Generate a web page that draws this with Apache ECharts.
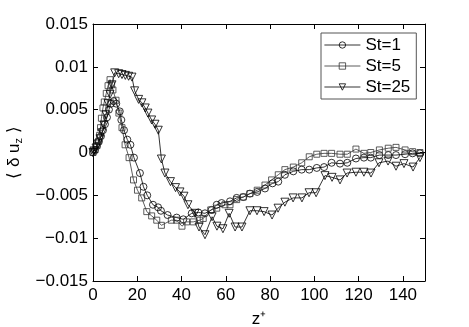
<!DOCTYPE html>
<html>
<head>
<meta charset="utf-8">
<script src="https://cdn.jsdelivr.net/npm/echarts@6/dist/echarts.min.js"></script>
<style>
  html, body { margin: 0; padding: 0; background: #fff; }
  #main { width: 469px; height: 327px; }
</style>
</head>
<body>
<div id="main"></div>
<script>
// St=1 (circles)
var z1 = [0, 0.9, 1.8, 2.7, 3.6, 4.5, 5.4, 6.3, 7.2, 8.1, 9.3, 10.5, 12.1, 12.8, 14, 15.5, 16.9, 18.5, 21.2, 22.8, 24.5, 27.1, 29.4, 30.7, 33.7, 37.8, 40.8, 44.6, 47.6, 50.6, 53.6, 55.9, 58.1, 61.9, 64.9, 67.9, 70.9, 74.2, 77.7, 81.1, 83.7, 86.7, 90.5, 94.3, 97.7, 101.1, 104.4, 107.8, 111.6, 114.9, 118.8, 122.4, 125.5, 129.4, 133.4, 136.9, 141, 144.4, 147.7];
var u1 = [0, 0.0003, 0.0008, 0.0013, 0.0019, 0.0026, 0.0033, 0.0041, 0.005, 0.0057, 0.006, 0.0057, 0.0048, 0.0038, 0.0026, 0.0015, 0.0009, -0.0006, -0.0024, -0.004, -0.005, -0.0061, -0.0064, -0.0068, -0.0073, -0.0076, -0.0078, -0.0071, -0.007, -0.0071, -0.0067, -0.0061, -0.0059, -0.0057, -0.0053, -0.0052, -0.0048, -0.0046, -0.0042, -0.0036, -0.0034, -0.0026, -0.0022, -0.002, -0.002, -0.0018, -0.0017, -0.0012, -0.0013, -0.0012, -0.0007, -0.0006, -0.0006, -0.0003, -0.0003, -0.0003, -0.0002, -0.0001, -0.0001];

// St=5 (squares)
var z5 = [0, 0.9, 1.8, 2.5, 3, 3.4, 3.8, 4.5, 5.1, 6, 6.8, 7.7, 8.4, 9, 10.4, 11.7, 13.1, 14.5, 16.3, 18.3, 20.1, 22, 24.3, 26.5, 28.8, 30.9, 35.4, 37.8, 40.2, 42.3, 45.3, 48.3, 49.8, 53.2, 55.9, 59.6, 61.9, 64.9, 67.9, 70.9, 74.2, 77.7, 80.7, 83.7, 86.7, 90.5, 94.3, 97.7, 101.1, 104.4, 107.8, 111.6, 114.9, 118.8, 122.4, 125.5, 129.4, 133.4, 136.9, 141, 144.4, 147.7];
var u5 = [0, 0.0003, 0.0008, 0.0013, 0.002, 0.0029, 0.004, 0.0052, 0.0059, 0.0069, 0.0078, 0.0085, 0.0079, 0.0073, 0.0061, 0.0046, 0.0029, 0.0009, -0.0006, -0.0032, -0.0044, -0.0053, -0.0069, -0.0074, -0.0079, -0.0085, -0.0079, -0.0079, -0.0086, -0.0081, -0.0081, -0.0079, -0.0077, -0.0067, -0.0065, -0.0061, -0.0061, -0.0055, -0.0052, -0.0048, -0.0044, -0.0038, -0.0032, -0.0026, -0.002, -0.0017, -0.0012, -0.0005, -0.0002, -0.0001, -0.0001, -0.0002, -0.0002, 0.0004, -0.0001, 0, 0.0003, 0.0005, 0.0006, 0.0003, 0.0001, 0];

// St=25 (triangles)
var z25 = [0, 0.45, 1.36, 2.26, 3.16, 4.07, 4.97, 5.87, 6.78, 7.68, 8.58, 9.8, 11.6, 13.1, 14.6, 16.1, 17.6, 18.8, 20.6, 22.1, 23.6, 24.8, 26.5, 28, 29.5, 30.9, 32.5, 35, 37.3, 39.3, 41.1, 42.9, 46.1, 47.9, 50.6, 53.8, 56, 58.7, 61.5, 64.2, 67.3, 70.9, 74.1, 77.3, 80.9, 83.6, 86.7, 90.4, 94.4, 97.6, 100.8, 104.8, 108, 111.6, 114.8, 118.8, 122.4, 125.6, 129.2, 133.3, 136.9, 140.5, 144.6, 147.7];
var u25 = [0, 0.00018, 0.00053, 0.001, 0.0016, 0.0023, 0.0032, 0.0044, 0.0057, 0.0068, 0.0079, 0.0093, 0.0092, 0.0091, 0.009, 0.0089, 0.0088, 0.0072, 0.0062, 0.0058, 0.0052, 0.0046, 0.0038, 0.0033, 0.0026, -0.00076, -0.0024, -0.0034, -0.0041, -0.0046, -0.0051, -0.0061, -0.0071, -0.0087, -0.0096, -0.0075, -0.0086, -0.0089, -0.0071, -0.0087, -0.0087, -0.0068, -0.0068, -0.0069, -0.0073, -0.0065, -0.0058, -0.0053, -0.0053, -0.0047, -0.0047, -0.0027, -0.0029, -0.0032, -0.0024, -0.0023, -0.0023, -0.0024, -0.0012, -0.001, -0.0016, -0.0013, -0.0017, -0.0006];

var names = ['St=1', 'St=5', 'St=25'];
var xTicks = [0, 20, 40, 60, 80, 100, 120, 140];

function pairs(xs, ys) {
    var out = [];
    for (var i = 0; i < xs.length; i++) out.push([xs[i], ys[i]]);
    return out;
}

var font = 'Liberation Sans, Arial, Helvetica, sans-serif';
var myChart = echarts.init(document.getElementById('main'), null, { renderer: 'canvas' });

function yFmt(v) {
    var r = Math.round(v * 1000) / 1000;
    if (r === 0) return '0';
    return String(r).replace('-', '\u2212');
}

var axisCommon = {
    axisLine: { show: true, onZero: false, lineStyle: { color: '#000', width: 1 } },
    axisTick: { show: true, inside: true, length: 5, lineStyle: { color: '#000', width: 1 } },
    splitLine: { show: false }
};

function mk(name, xs, ys, symbol, rot, size, color) {
    return {
        name: name,
        type: 'line',
        data: pairs(xs, ys),
        symbol: symbol,
        symbolSize: size,
        symbolRotate: rot,
        showAllSymbol: true,
        xAxisIndex: 0,
        yAxisIndex: 0,
        lineStyle: { color: color, width: 0.8 },
        itemStyle: { color: 'rgba(255,255,255,0)', borderColor: color, borderWidth: 0.8 },
        emphasis: { disabled: true },
        animation: false,
        z: 2
    };
}

var option = {
    backgroundColor: '#fff',
    animation: false,
    textStyle: { fontFamily: font },
    grid: { left: 93, right: 44, top: 24, bottom: 46, show: false, containLabel: false, outerBoundsMode: 'none' },
    legend: {
        orient: 'vertical',
        left: 321,
        top: 33,
        backgroundColor: '#fff',
        borderColor: '#555',
        borderWidth: 1,
        borderRadius: 0,
        padding: [2, 6, 2, 3],
        itemGap: 1,
        itemWidth: 36,
        itemHeight: 8,
        lineStyle: { width: 0.8 },
        itemStyle: { borderWidth: 0.8 },
        textStyle: { fontSize: 17, color: '#000', fontFamily: font, lineHeight: 20 },
        data: names
    },
    xAxis: [
        Object.assign({}, axisCommon, {
            type: 'value', min: 0, max: 150, interval: 20, position: 'bottom',
            name: 'z\u207A', nameLocation: 'middle', nameGap: 30,
            nameTextStyle: { fontSize: 17, color: '#000', fontFamily: font },
            axisLabel: {
                fontSize: 17, color: '#000', margin: 6,
                formatter: function (v) { return xTicks.indexOf(v) >= 0 ? String(v) : ''; }
            }
        }),
        Object.assign({}, axisCommon, {
            type: 'value', min: 0, max: 150, interval: 20, position: 'top',
            axisLabel: { show: false }
        })
    ],
    yAxis: [
        Object.assign({}, axisCommon, {
            type: 'value', min: -0.015, max: 0.015, interval: 0.005, position: 'left',
            name: '{t|\u27E8 \u03B4 u}{s|z}{t| \u27E9}', nameLocation: 'middle', nameGap: 66, nameRotate: 90,
            nameTextStyle: {
                color: '#000',
                rich: {
                    t: { fontSize: 17, color: '#000', fontFamily: font },
                    s: { fontSize: 11, color: '#000', fontFamily: font, padding: [10, 0, 0, 0] }
                }
            },
            axisLabel: { fontSize: 17, color: '#000', margin: 5, formatter: yFmt }
        }),
        Object.assign({}, axisCommon, {
            type: 'value', min: -0.015, max: 0.015, interval: 0.005, position: 'right',
            axisLabel: { show: false }
        })
    ],
    series: [
        mk(names[0], z1, u1, 'circle', 0, 7, '#000'),
        mk(names[1], z5, u5, 'rect', 0, 6, '#333'),
        mk(names[2], z25, u25, 'triangle', 180, 8, '#000')
    ]
};
myChart.setOption(option);
</script>
</body>
</html>
